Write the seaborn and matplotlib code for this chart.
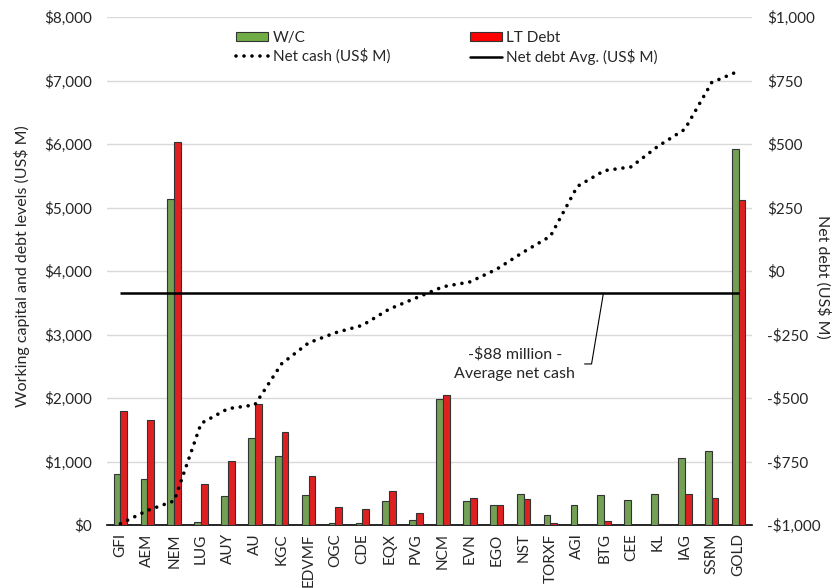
import numpy as np
import pandas as pd
import matplotlib
matplotlib.use("Agg")
import matplotlib.pyplot as plt
import seaborn as sns
from matplotlib.lines import Line2D
from matplotlib.patches import Patch

tickers = ["GFI", "AEM", "NEM", "LUG", "AUY", "AU", "KGC", "EDVMF", "OGC", "CDE",
           "EQX", "PVG", "NCM", "EVN", "EGO", "NST", "TORXF", "AGI", "BTG", "CEE",
           "KL", "IAG", "SSRM", "GOLD"]
working_capital = [800, 720, 5136, 47, 460, 1370, 1092, 472, 30, 24,
                   384, 71, 1978, 372, 319, 496, 153, 313, 466, 401,
                   490, 1051, 1163, 5915]
lt_debt = [1800, 1653, 6039, 638, 1004, 1901, 1464, 767, 277, 248,
           543, 189, 2043, 419, 319, 413, 30, 0, 65, 0,
           12, 490, 419, 5124]
net_cash = [-995, -943, -905, -600, -542, -527, -365, -283, -243, -214,
            -150, -106, -62, -43, 7, 75, 137, 333, 395, 410,
            491, 558, 742, 787]
avg_net = -88

left_ticks = [0, 1000, 2000, 3000, 4000, 5000, 6000, 7000, 8000]
right_ticks = [-1000, -750, -500, -250, 0, 250, 500, 750, 1000]

GREEN = "#70AD47"
RED = "#FF0000"

sns.set_theme(style="white")
plt.rcParams["font.family"] = ["Lato", "DejaVu Sans"]
FS = 11
FL = 11.5

df = pd.DataFrame({
    "ticker": tickers * 2,
    "metric": ["W/C"] * len(tickers) + ["LT Debt"] * len(tickers),
    "value": working_capital + lt_debt,
})

W, H = 833, 588
fig = plt.figure(figsize=(W / 100, H / 100), dpi=100)
ax = fig.add_axes([107 / W, 1 - 525 / H, (752 - 107) / W, (525 - 17) / H])

sns.barplot(data=df, x="ticker", y="value", hue="metric", order=tickers,
            hue_order=["W/C", "LT Debt"], palette=[GREEN, RED], width=0.5,
            edgecolor="#333333", linewidth=0.8, legend=False, ax=ax, zorder=3)

ax.set_xlim(-0.5, len(tickers) - 0.5)
ax.set_ylim(0, 8000)
ax.set_yticks(left_ticks)
ax.set_yticklabels([f"${v:,.0f}" for v in left_ticks], fontsize=FS)
ax.yaxis.grid(True, color="#D9D9D9", linewidth=1)
ax.set_axisbelow(True)
ax.set_xlabel("")
ax.set_ylabel("")
for s in ["top", "left", "right"]:
    ax.spines[s].set_visible(False)
ax.spines["bottom"].set_color("black")
ax.spines["bottom"].set_linewidth(1.2)
ax.tick_params(axis="x", length=0, pad=6, labelrotation=90, labelsize=FS)
ax.tick_params(axis="y", length=0, pad=11)

ax2 = ax.twinx()
xpos = np.arange(len(tickers))
sns.lineplot(x=xpos, y=net_cash, ax=ax2, color="black", linewidth=2.6,
             linestyle=(0, (0.01, 2.2)), dash_capstyle="round", zorder=4)
ax2.hlines(avg_net, xpos[0], xpos[-1], color="black", linewidth=1.8, zorder=4)
ax2.set_ylim(-1000, 1000)
ax2.set_yticks(right_ticks)
ax2.set_yticklabels([f"-${abs(v):,.0f}" if v < 0 else f"${v:,.0f}" for v in right_ticks],
                    fontsize=FS)
ax2.set_ylabel("")
ax2.tick_params(axis="y", length=0, pad=11)
for s in ["top", "left", "right", "bottom"]:
    ax2.spines[s].set_visible(False)
ax2.grid(False)
ax2.set_xlim(-0.5, len(tickers) - 0.5)

fig.text(22 / W, 1 - 266 / H, "Working capital and debt levels (US$ M)", rotation=90,
         ha="center", va="center", fontsize=FL)
fig.text(823 / W, 1 - 277 / H, "Net debt (US$ M)", rotation=270,
         ha="center", va="center", fontsize=FL)

# annotation
ax2.plot([17.27, 17.53, 17.97], [-366, -366, avg_net], color="black", linewidth=0.8)
ax2.text(14.67, -366, "-$88 million -\nAverage net cash", ha="center", va="center",
         fontsize=FL, linespacing=1.45)

handles = [Patch(facecolor=GREEN, edgecolor="#333333", linewidth=0.8),
           Line2D([], [], color="black", linewidth=2.6, linestyle=(0, (0.01, 2.2)),
                  dash_capstyle="round"),
           Patch(facecolor=RED, edgecolor="#333333", linewidth=0.8),
           Line2D([], [], color="black", linewidth=1.8)]
labels = ["W/C", "Net cash (US$ M)", "LT Debt", "Net debt Avg. (US$ M)"]
fig.legend(handles, labels, ncol=2, loc="upper left",
           bbox_to_anchor=(236 / W, 1 - 31 / H), frameon=False, fontsize=FS,
           handlelength=2.1, handleheight=0.6, handletextpad=0.3, columnspacing=5.2,
           borderpad=0, labelspacing=0.25, borderaxespad=0)

fig.savefig("out.png", dpi=100)
